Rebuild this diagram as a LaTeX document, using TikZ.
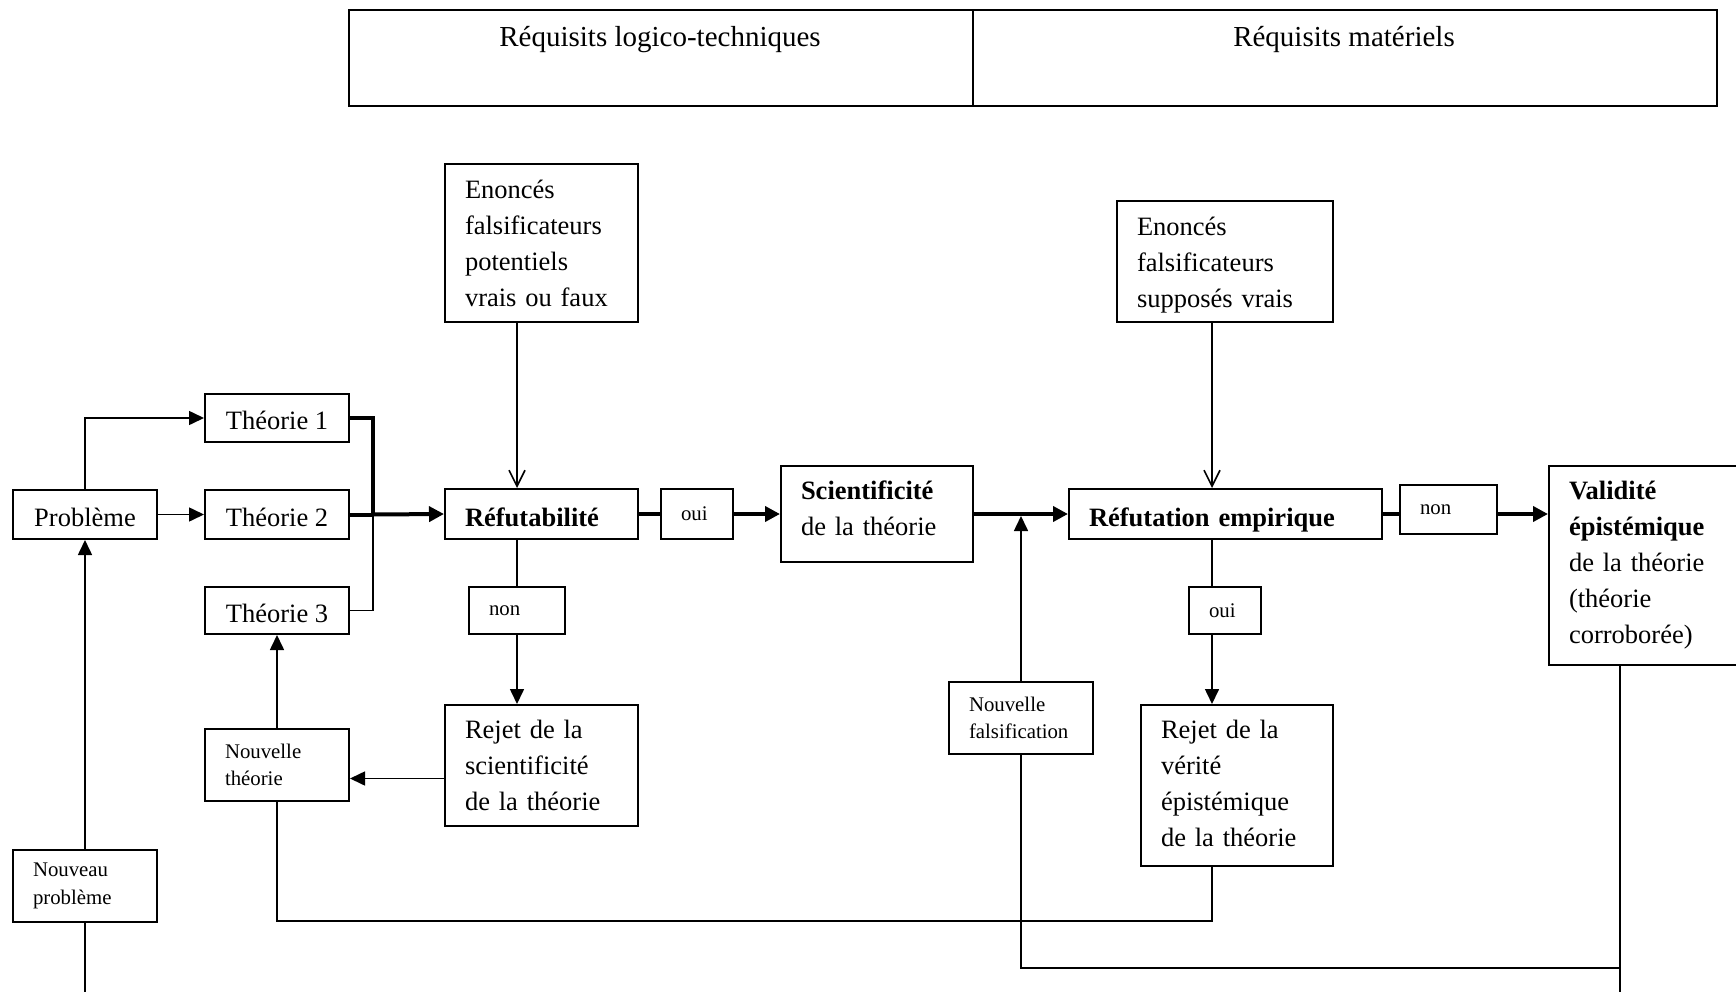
\documentclass[tikz,border=0pt]{standalone}
\usepackage{fontspec}
\setmainfont{Liberation Serif}
\usetikzlibrary{arrows.meta, positioning}

\newcommand{\grandtexte}{\fontsize{26.5pt}{36pt}\selectfont}
\newcommand{\petittexte}{\fontsize{20.8pt}{27.5pt}\selectfont}
\newcommand{\textetitre}{\fontsize{29pt}{34pt}\selectfont}

\tikzset{
    boite/.style 2 args={
        draw, line width=2pt, anchor=north west, align=left,
        inner xsep=20pt, inner ysep=0pt, font=\grandtexte,
        minimum width=#1pt, minimum height=#2pt, text width=#1pt-40pt
    },
    petite/.style={font=\petittexte},
    centre/.style={align=center, text width=, text height=23pt, text depth=0pt},
    ligne gras/.style={text height=30pt, text depth=6pt},
    trait/.style={line width=1.6pt},
    trait epais/.style={line width=4pt},
    fleche/.style={trait, -{Triangle[length=15pt, width=14pt]}},
    fleche epaisse/.style={trait epais, -{Triangle[length=15pt, width=15pt]}},
    fleche ouverte/.style={trait, -{Straight Barb[length=16pt, width=16pt]}},
}

\begin{document}
\begin{tikzpicture}[x=1pt, y=-1pt]
\useasboundingbox (0,0) rectangle (1736,992);
\clip (0,0) rectangle (1736,992);

\coordinate (bas) at (0,995);
\coordinate (axeB) at (1212,0);
\coordinate (coinA) at (1212,921);
\coordinate (coinB) at (1620,968);

% Bandeau des requisits
\node[boite={624}{96}] (hdrA) at (348,9) {};
\node[boite={744}{96}] (hdrB) at (972,9) {};
\node[font=\textetitre, anchor=base] (reqA) at (660,47) {Réquisits logico-techniques};
\node[font=\textetitre, anchor=base] (reqB) at (1344,47) {Réquisits matériels};

% Probleme et theories
\node[boite={144}{49}, centre] (probleme) at (12,489) {Problème};
\node[boite={144}{48}, centre] (theoA) at (204,393) {Théorie 1};
\node[boite={144}{49}, centre] (theoB) at (204,489) {Théorie 2};
\node[boite={144}{47}, centre] (theoC) at (204,586) {Théorie 3};
\node[boite={144}{72}, petite] (nouvTheo) at (204,728) {Nouvelle\\théorie};
\node[boite={144}{72}, petite] (nouvProb) at (12,849) {Nouveau\\problème};

% Refutabilite
\node[boite={193}{158}] (enonceA) at (444,163) {Enoncés\\falsificateurs\\potentiels\\vrais ou faux};
\node[boite={193}{50}, ligne gras] (refut) at (444,488) {\textbf{Réfutabilité}};
\node[boite={72}{50}, petite] (ouiA) at (660,488) {oui};
\node[boite={96}{47}, petite] (nonA) at (468,586) {non};
\node[boite={193}{121}] (rejetA) at (444,704) {Rejet de la\\scientificité\\de la théorie};
\node[boite={192}{96}, text depth=47pt] (scient) at (780,465) {\textbf{Scientificité}\\de la théorie};

% Refutation empirique
\node[boite={216}{121}, text height=26.5pt] (enonceB) at (1116,200) {Enoncés\\falsificateurs\\supposés vrais};
\node[boite={313}{50}, ligne gras] (refemp) at (1068,488) {\textbf{Réfutation empirique}};
\node[boite={97}{49}, petite] (nonB) at (1399,484) {non};
\node[boite={72}{47}, petite] (ouiB) at (1188,586) {oui};
\node[boite={192}{161}, text depth=112pt] (rejetB) at (1140,704) {Rejet de la\\vérité\\épistémique\\de la théorie};
\node[boite={144}{72}, petite] (nouvFals) at (948,681) {Nouvelle\\falsification};
\node[boite={200}{199}] (valid) at (1548,465) {\textbf{Validité}\\\textbf{épistémique}\\de la théorie\\(théorie\\corroborée)};

% Entrees vers la refutabilite
\coordinate[right=23pt of theoB.east] (bus);
\draw[fleche] (probleme.north) |- (theoA.west);
\draw[fleche] (probleme.east) -- (theoB.west);
\draw[fleche] (nouvProb.north) -- (probleme.south);
\draw[trait] (nouvProb.south) -- (bas -| nouvProb.south);
\draw[trait epais] (theoA.east) -| (bus);
\draw[trait epais] (theoB.east) -- (bus);
\draw[trait] (theoC.east) -| (bus);
\draw[fleche epaisse] (bus) -- (refut.west);

% Branche de la refutabilite
\draw[fleche ouverte] (enonceA.south -| nonA.north) -- (refut.north -| nonA.north);
\draw[trait] (refut.south -| nonA.north) -- (nonA.north);
\draw[fleche] (nonA.south) -- (rejetA.north -| nonA.south);
\draw[fleche] ([yshift=-13pt]rejetA.west) -- ([yshift=-13pt]rejetA.west -| nouvTheo.east);
\draw[fleche] (nouvTheo.north) -- (theoC.south);
\draw[trait epais] (refut.east) -- (ouiA.west);
\draw[fleche epaisse] (ouiA.east) -- (scient.west);
\draw[fleche epaisse] (scient.east) -- (refemp.west);

% Branche de la refutation empirique
\draw[fleche ouverte] (enonceB.south -| axeB) -- (refemp.north -| axeB);
\draw[trait] (refemp.south -| axeB) -- (ouiB.north -| axeB);
\draw[fleche] (ouiB.south -| axeB) -- (rejetB.north -| axeB);
\draw[trait epais] (refemp.east) -- (nonB.west |- refemp.east);
\draw[fleche epaisse] (nonB.east |- refemp.east) -- (valid.west |- refemp.east);
\draw[fleche] (nouvFals.north) -- ([yshift=-2pt]nouvFals.north |- scient.east);

% Retours
\draw[trait] (nouvTheo.south) |- (coinA) -- (rejetB.south -| coinA);
\draw[trait] (nouvFals.south) |- (coinB);
\draw[trait] (valid.south -| coinB) -- (bas -| coinB);
\end{tikzpicture}
\end{document}
